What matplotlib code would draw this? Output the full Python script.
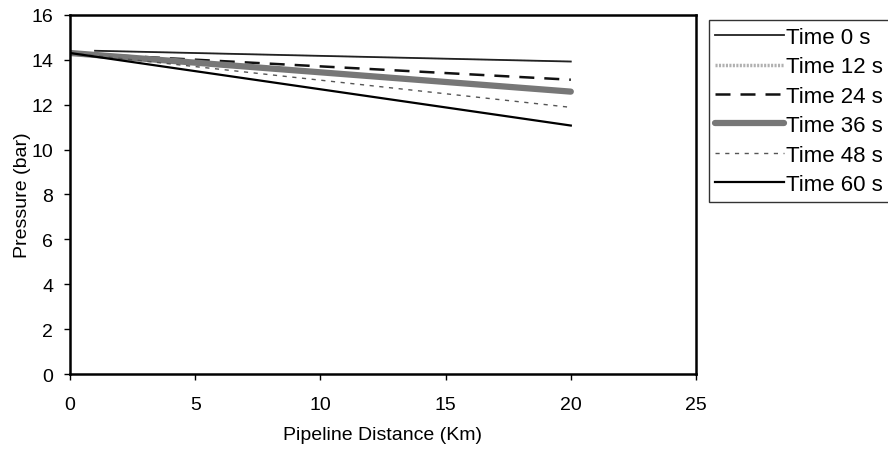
import matplotlib
matplotlib.use("Agg")
import matplotlib.pyplot as plt
import matplotlib.lines as mlines

plt.rcParams['font.family'] = ['Liberation Sans', 'DejaVu Sans']

# pressure profiles along the pipeline (start / end of each line)
labels = ["Time 0 s", "Time 12 s", "Time 24 s", "Time 36 s", "Time 48 s", "Time 60 s"]
dist = {
    "Time 0 s": [1, 20],
    "Time 12 s": [1, 20],
    "Time 24 s": [0, 20],
    "Time 36 s": [0, 20],
    "Time 48 s": [0, 20],
    "Time 60 s": [0, 20],
}
press = {
    "Time 0 s": [14.4, 13.92],
    "Time 12 s": [14.4, 13.92],
    "Time 24 s": [14.3, 13.11],
    "Time 36 s": [14.3, 12.58],
    "Time 48 s": [14.3, 11.88],
    "Time 60 s": [14.3, 11.07],
}

styles = {
    "Time 0 s": dict(color='#222222', lw=1.3, ls='-'),
    "Time 12 s": dict(color='#b0b0b0', lw=1.0, ls=(0, (0.6, 0.4))),
    "Time 24 s": dict(color='#111111', lw=1.8, ls=(0, (6, 4))),
    "Time 36 s": dict(color='#777777', lw=4.5, ls='-', solid_capstyle='round'),
    "Time 48 s": dict(color='#555555', lw=1.0, ls=(0, (3, 4))),
    "Time 60 s": dict(color='#000000', lw=1.6, ls='-'),
}
order = ["Time 12 s", "Time 0 s", "Time 24 s", "Time 36 s", "Time 48 s", "Time 60 s"]

fig = plt.figure(figsize=(8.88, 4.52), dpi=100)
ax = fig.add_axes([0.0788, 0.170, 0.705, 0.795])

handles = {}
for name in order:
    h, = ax.plot(dist[name], press[name], label=name, **styles[name])
    handles[name] = h

ax.set_xlim(0, 25)
ax.set_ylim(0, 16)
ax.set_xticks(range(0, 26, 5))
ax.set_yticks(range(0, 17, 2))
ax.tick_params(direction='out', length=4, width=1, labelsize=14)
ax.tick_params(axis='x', pad=12)
ax.tick_params(axis='y', pad=8)
for s in ax.spines.values():
    s.set_linewidth(1.8)
ax.set_xlabel("Pipeline Distance (Km)", fontsize=14, labelpad=9)
ax.set_ylabel("Pressure (bar)", fontsize=14, labelpad=0)

# legend handle for Time 12 drawn thicker so it reads like the original
h12 = mlines.Line2D([], [], color='#b0b0b0', lw=2.5, ls=(0, (0.6, 0.4)))
leg_handles = [handles[n] if n != "Time 12 s" else h12 for n in labels]

leg = fig.legend(leg_handles, labels, loc='upper left',
                 bbox_to_anchor=(0.798, 0.953), fontsize=16, frameon=True,
                 fancybox=False, edgecolor='black', handlelength=3.1,
                 handletextpad=0.1, labelspacing=0.38, borderpad=0.3,
                 borderaxespad=0)
leg.get_frame().set_linewidth(1.0)

fig.savefig("out.png", dpi=100)
